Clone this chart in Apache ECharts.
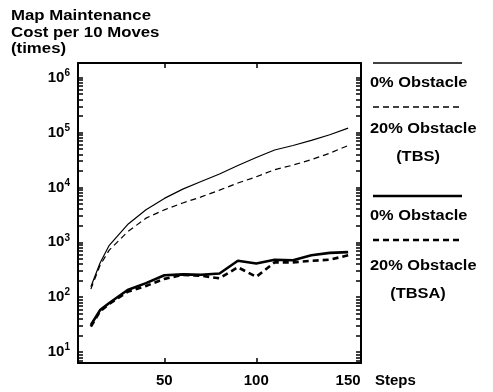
<!DOCTYPE html>
<html>
<head>
<meta charset="utf-8">
<style>
  html, body { margin: 0; padding: 0; background: #fff; }
  #chart { width: 493px; height: 392px; }
</style>
<script src="https://cdn.jsdelivr.net/npm/echarts@6/dist/echarts.min.js"></script>
</head>
<body>
<div id="chart"></div>
<script>
// Steps on the x axis
const steps = [10, 15, 20, 30, 40, 50, 60, 70, 80, 90, 100, 110, 120, 130, 140, 150];
// TBS curves
const tbs0 = [155, 420, 880, 2100, 3900, 6300, 9300, 12800, 17500, 25000, 35000, 48000, 58000, 72000, 91000, 120000];
const tbs20 = [140, 380, 720, 1550, 2750, 3900, 5200, 6700, 8900, 12000, 15600, 21000, 25500, 32000, 42000, 58000];
// TBSA curves
const tbsa0 = [31, 58, 78, 135, 180, 250, 260, 255, 270, 460, 410, 480, 470, 580, 640, 660];
const tbsa20 = [29, 55, 75, 125, 160, 215, 255, 245, 220, 350, 235, 430, 430, 460, 480, 580];

const xLabels = [50, 100, 150];
const decades = [10, 100, 1000, 10000, 100000, 1000000];

const font = 'Liberation Sans, Arial, sans-serif';

const pairs = (vals) => steps.map((s, i) => [s, vals[i]]);

// minor ticks between decades
const minorTicks = [];
[1, 10, 100, 1000, 10000, 100000, 1000000].forEach((d) => {
  for (let k = 1; k <= 9; k++) {
    const v = d * k;
    if (v >= 7 && v <= 1800000) minorTicks.push(v);
  }
});

const yAxisBase = {
  type: 'log',
  logBase: 10,
  min: 6.3,
  max: 1850000,
  axisLine: { show: true, lineStyle: { color: '#000', width: 2 } },
  splitLine: { show: false },
  axisTick: { show: true, inside: true, length: 5, customValues: minorTicks, lineStyle: { color: '#000', width: 1.5 } },
  minorTick: { show: false },
};

const chart = echarts.init(document.getElementById('chart'));

const lineSeries = (name, vals, width, dashed) => ({
  name,
  type: 'line',
  data: pairs(vals),
  symbol: 'none',
  smooth: false,
  lineStyle: { color: '#000', width, type: dashed ? [6, 4] : 'solid' },
  animation: false,
});

const legendItems = [
  { y: 63, w: 1.5, dash: false, text: '0% Obstacle', ty: 83 },
  { y: 107, w: 1.5, dash: true, text: '20% Obstacle', ty: 129 },
  { text: '(TBS)', ty: 157, center: true },
  { y: 196, w: 2.5, dash: false, text: '0% Obstacle', ty: 216 },
  { y: 240, w: 2.5, dash: true, text: '20% Obstacle', ty: 266 },
  { text: '(TBSA)', ty: 294, center: true },
];

const textStyle = (text, extra) => Object.assign({
  text, fontFamily: font, fontSize: 14, fontWeight: 'bold', fill: '#000',
}, extra);

const graphics = [
  { type: 'text', x: 11, y: 8, scaleX: 1.2, style: textStyle('Map Maintenance\nCost per 10 Moves\n(times)', { lineHeight: 16.5 }) },
  { type: 'text', x: 375, y: 373, style: textStyle('Steps', { fontSize: 15 }) },
];
legendItems.forEach((it) => {
  if (it.y !== undefined) {
    graphics.push({
      type: 'line',
      shape: { x1: 373, y1: it.y, x2: 462, y2: it.y },
      style: { stroke: '#000', lineWidth: it.w, lineDash: it.dash ? [6, 4] : null },
    });
  }
  graphics.push({
    type: 'text',
    x: it.center ? 418 : 370,
    y: it.ty,
    scaleX: 1.17,
    style: textStyle(it.text, { align: it.center ? 'center' : 'left', verticalAlign: 'middle' }),
  });
});

const option = {
  animation: false,
  backgroundColor: '#fff',
  grid: { left: 78, right: 132, top: 63, bottom: 29, show: false, containLabel: false },
  xAxis: [
    {
      type: 'value',
      min: 3,
      max: 157,
      axisLine: { show: true, lineStyle: { color: '#000', width: 2 } },
      splitLine: { show: false },
      axisTick: { show: true, inside: true, length: 5, customValues: [50, 100], lineStyle: { color: '#000', width: 1.5 } },
      axisLabel: { customValues: xLabels, color: '#000', fontFamily: font, fontSize: 15, fontWeight: 'bold', margin: 10 },
    },
    {
      type: 'value',
      position: 'top',
      min: 3,
      max: 157,
      axisLine: { show: true, lineStyle: { color: '#000', width: 2 } },
      splitLine: { show: false },
      axisTick: { show: true, inside: true, length: 5, customValues: [50, 100], lineStyle: { color: '#000', width: 1.5 } },
      axisLabel: { show: false },
    },
  ],
  yAxis: [
    Object.assign({}, yAxisBase, {
      axisLabel: {
        customValues: decades,
        color: '#000',
        fontFamily: font,
        fontSize: 15,
        fontWeight: 'bold',
        margin: 8,
        formatter: (v) => '10{s|' + Math.round(Math.log10(v)) + '}',
        rich: { s: { fontSize: 10, fontFamily: font, fontWeight: 'bold', verticalAlign: 'top', padding: [0, 0, 9, 0] } },
      },
    }),
    Object.assign({}, yAxisBase, {
      position: 'right',
      axisLabel: { show: false },
    }),
  ],
  series: [
    lineSeries('TBS 0%', tbs0, 1.2, false),
    lineSeries('TBS 20%', tbs20, 1.2, true),
    lineSeries('TBSA 0%', tbsa0, 2.6, false),
    lineSeries('TBSA 20%', tbsa20, 2.6, true),
  ],
  graphic: graphics,
};

chart.setOption(option);
</script>
</body>
</html>
